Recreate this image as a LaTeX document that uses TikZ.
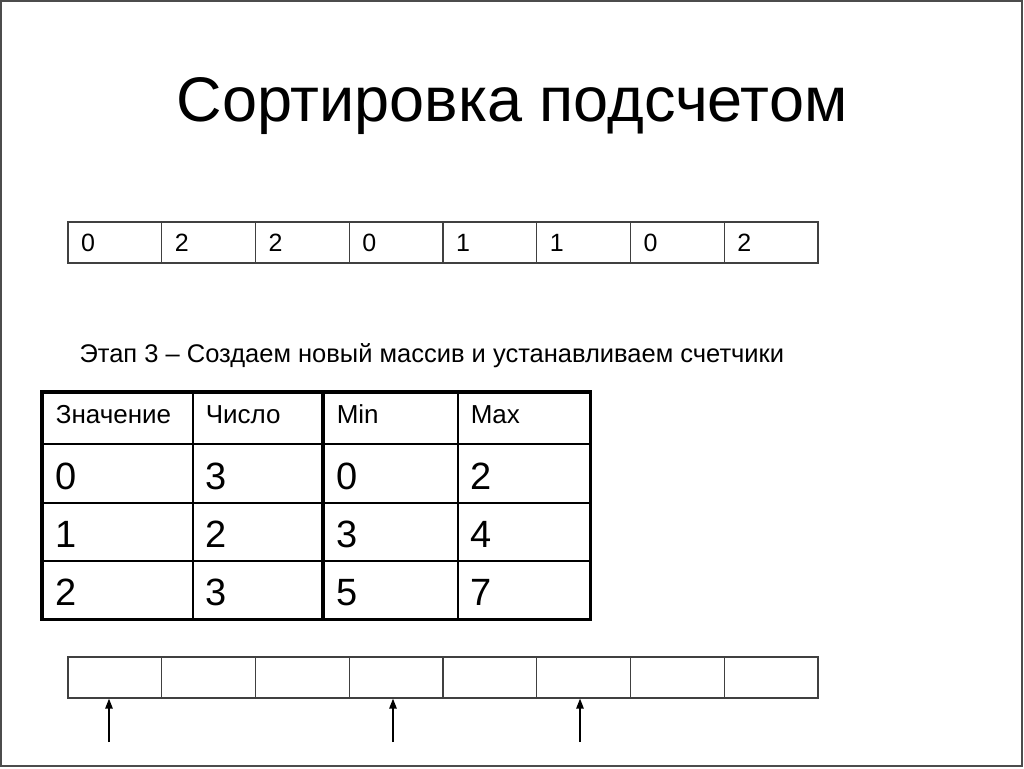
\documentclass[tikz,border=0pt]{standalone}
\usepackage{fontspec}
\setmainfont{Liberation Sans}
\usetikzlibrary{arrows.meta}

\begin{document}
\begin{tikzpicture}[x=1pt, y=-1pt,
  cell/.style={draw=black!75, line width=1.3pt, minimum height=41pt, text width=67.75pt,
    inner xsep=13pt, inner ysep=0pt, align=left, text height=18pt, text depth=0pt,
    font=\fontsize{25}{27}\selectfont},
  tcell/.style={draw, line width=1.6pt, inner xsep=13pt, inner ysep=0pt, align=left,
    text depth=0pt, anchor=north west},
  ptr/.style={-{Triangle[length=10pt,width=7.5pt]}, line width=1.4pt}]
  \useasboundingbox (0,0) rectangle (1024,768);
  \draw[black!70, line width=1.5pt] (1,1) rectangle (1022,766);

  \node[font=\fontsize{63}{70}\selectfont] (title) at (512,106) {Сортировка подсчетом};

  % input array
  \foreach \v [count=\i from 0] in {0,2,2,0,1,1,0,2}
    \node[cell] (a\i) at (68+\i*93.75+46.875, 242.5) {\v};

  \node[anchor=west, font=\fontsize{25.5}{28}\selectfont] (stage) at (76,356)
    {Этап 3 – Создаем новый массив и устанавливаем счетчики};

  % counting table
  \foreach \y/\h/\fs/\th/\ta/\tb/\tc/\td [count=\r] in
    {392/51/26/10/Значение/Число/Min/Max, 443/59/38/32/0/3/0/2, 502/58/38/32/1/2/3/4, 560/58/38/32/2/3/5/7} {
    \node[tcell, minimum height=\h pt, text height=\th pt, text width=124pt, font=\fontsize{\fs}{\fs}\selectfont] (t\r a) at (42,\y) {\ta};
    \node[tcell, minimum height=\h pt, text height=\th pt, text width=105pt, font=\fontsize{\fs}{\fs}\selectfont] (t\r b) at (192,\y) {\tb};
    \node[tcell, minimum height=\h pt, text height=\th pt, text width=108pt, font=\fontsize{\fs}{\fs}\selectfont] (t\r c) at (323,\y) {\tc};
    \node[tcell, minimum height=\h pt, text height=\th pt, text width=106pt, font=\fontsize{\fs}{\fs}\selectfont] (t\r d) at (457,\y) {\td};
  }
  \draw[line width=3.2pt] (t1a.north west) rectangle (t4d.south east);
  \draw[line width=3.2pt] (t1c.north west) -- (t4c.south west);

  % output array
  \foreach \i in {0,...,7}
    \node[cell] (b\i) at (68+\i*93.75+46.875, 677.5) {};

  \coordinate (p0) at (109,742);
  \coordinate (p3) at (393,742);
  \coordinate (p5) at (580,742);
  \draw[ptr] (p0) -- (p0 |- b0.south);
  \draw[ptr] (p3) -- (p3 |- b3.south);
  \draw[ptr] (p5) -- (p5 |- b5.south);
\end{tikzpicture}
\end{document}
